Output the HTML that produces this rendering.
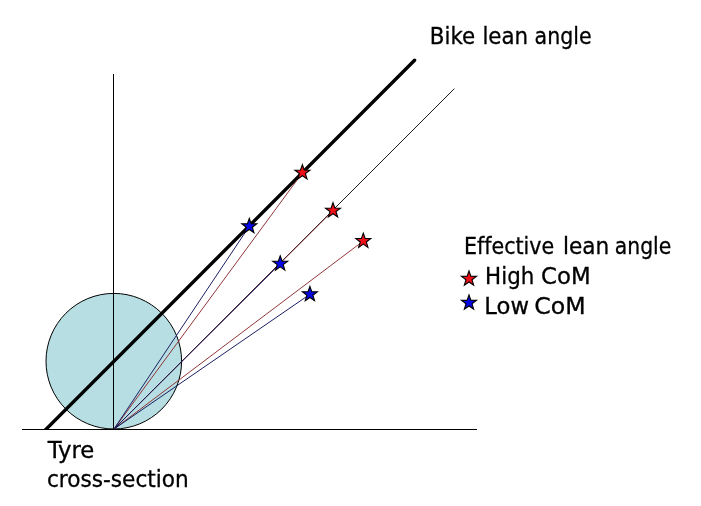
<!DOCTYPE html>
<html><head><meta charset="utf-8">
<style>
html,body{margin:0;padding:0;background:#fff;}
svg{display:block;}
text{font-family:"DejaVu Sans","Liberation Sans",sans-serif;font-size:22.1px;fill:#000;stroke:#000;stroke-width:0.3px;font-variant-ligatures:none;}
</style></head>
<body>
<svg width="701" height="506" viewBox="0 0 701 506">
<defs>
<clipPath id="above"><rect x="0" y="0" width="701" height="430"/></clipPath>
</defs>
<rect width="701" height="506" fill="#fff"/>
<circle cx="113.8" cy="361.2" r="67.8" fill="#b7dfe3" stroke="#000" stroke-width="1"/>
<line x1="113.5" y1="74" x2="113.5" y2="429" stroke="#000" stroke-width="1"/>
<line x1="22" y1="429.5" x2="477" y2="429.5" stroke="#000" stroke-width="1"/>
<line x1="40" y1="435.3" x2="414.6" y2="60.3" stroke="#000" stroke-width="3.4" stroke-linecap="round" clip-path="url(#above)"/>
<line x1="114" y1="429" x2="454.3" y2="88.7" stroke="#000" stroke-width="0.9"/>
<g stroke-width="0.95" fill="none">
<line x1="114" y1="429" x2="302.4" y2="172.8" stroke="#8c2c30"/>
<line x1="114" y1="429" x2="333" y2="210.6" stroke="#8c2c30"/>
<line x1="114" y1="429" x2="363.3" y2="241" stroke="#8c2c30"/>
<line x1="114" y1="429" x2="249.3" y2="226.3" stroke="#101458"/>
<line x1="114" y1="429" x2="280.2" y2="263.7" stroke="#101458"/>
<line x1="114" y1="429" x2="309.9" y2="294.3" stroke="#101458"/>
</g>
<g fill="#ee1018" stroke="#000" stroke-width="1.1" stroke-linejoin="miter">
<polygon points="0.00,-7.90 1.86,-2.56 7.51,-2.44 3.01,0.98 4.64,6.39 0.00,3.16 -4.64,6.39 -3.01,0.98 -7.51,-2.44 -1.86,-2.56" transform="translate(302.4,172.6)"/>
<polygon points="0.00,-7.90 1.86,-2.56 7.51,-2.44 3.01,0.98 4.64,6.39 0.00,3.16 -4.64,6.39 -3.01,0.98 -7.51,-2.44 -1.86,-2.56" transform="translate(333,210.6)"/>
<polygon points="0.00,-7.90 1.86,-2.56 7.51,-2.44 3.01,0.98 4.64,6.39 0.00,3.16 -4.64,6.39 -3.01,0.98 -7.51,-2.44 -1.86,-2.56" transform="translate(363.3,241)"/>
<polygon points="0.00,-7.90 1.86,-2.56 7.51,-2.44 3.01,0.98 4.64,6.39 0.00,3.16 -4.64,6.39 -3.01,0.98 -7.51,-2.44 -1.86,-2.56" transform="translate(469,278.8)"/>
</g>
<g fill="#0606e4" stroke="#000" stroke-width="1.1" stroke-linejoin="miter">
<polygon points="0.00,-7.90 1.86,-2.56 7.51,-2.44 3.01,0.98 4.64,6.39 0.00,3.16 -4.64,6.39 -3.01,0.98 -7.51,-2.44 -1.86,-2.56" transform="translate(249.3,226.3)"/>
<polygon points="0.00,-7.90 1.86,-2.56 7.51,-2.44 3.01,0.98 4.64,6.39 0.00,3.16 -4.64,6.39 -3.01,0.98 -7.51,-2.44 -1.86,-2.56" transform="translate(280.2,263.7)"/>
<polygon points="0.00,-7.90 1.86,-2.56 7.51,-2.44 3.01,0.98 4.64,6.39 0.00,3.16 -4.64,6.39 -3.01,0.98 -7.51,-2.44 -1.86,-2.56" transform="translate(309.9,294.3)"/>
<polygon points="0.00,-7.90 1.86,-2.56 7.51,-2.44 3.01,0.98 4.64,6.39 0.00,3.16 -4.64,6.39 -3.01,0.98 -7.51,-2.44 -1.86,-2.56" transform="translate(469,302.8)"/>
</g>
<text x="429.80" y="43.70" textLength="45.40" lengthAdjust="spacingAndGlyphs">Bike</text>
<text x="482.40" y="43.70" textLength="45.80" lengthAdjust="spacingAndGlyphs">lean</text>
<text x="534.60" y="43.70" textLength="57.00" lengthAdjust="spacingAndGlyphs">angle</text>
<text x="464.00" y="254.10" textLength="90.20" lengthAdjust="spacingAndGlyphs">Effective</text>
<text x="562.90" y="254.10" textLength="46.30" lengthAdjust="spacingAndGlyphs">lean</text>
<text x="614.80" y="254.10" textLength="56.50" lengthAdjust="spacingAndGlyphs">angle</text>
<text x="485.10" y="283.80" textLength="49.20" lengthAdjust="spacingAndGlyphs">High</text>
<text x="541.10" y="283.80" textLength="49.60" lengthAdjust="spacingAndGlyphs">CoM</text>
<text x="484.30" y="313.80" textLength="44.70" lengthAdjust="spacingAndGlyphs">Low</text>
<text x="534.20" y="313.80" textLength="51.40" lengthAdjust="spacingAndGlyphs">CoM</text>
<text x="47.70" y="457.80" textLength="46.70" lengthAdjust="spacingAndGlyphs">Tyre</text>
<text x="46.90" y="486.50" textLength="141.90" lengthAdjust="spacingAndGlyphs">cross-section</text>
</svg>
</body></html>
